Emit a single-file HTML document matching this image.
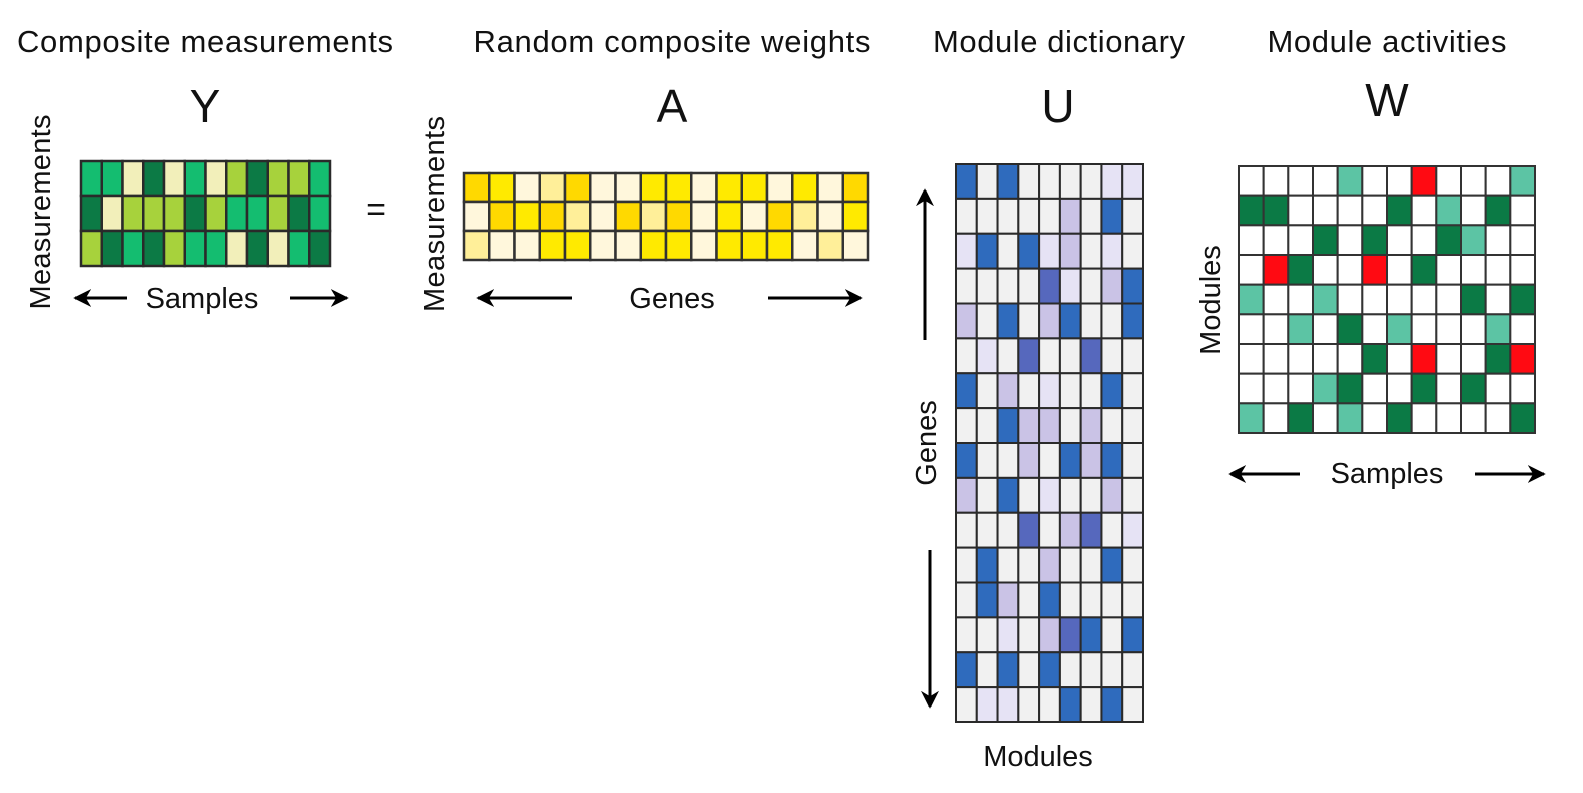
<!DOCTYPE html>
<html><head><meta charset="utf-8"><style>
html,body{margin:0;padding:0;background:#fff;}
svg{display:block;}
text{font-family:"Liberation Sans",Arial,sans-serif;fill:#111;}
</style></head><body>
<svg id="s" width="1583" height="793" viewBox="0 0 1583 793" xmlns="http://www.w3.org/2000/svg">
<defs>
<marker id="ah" viewBox="0 0 10 10" refX="9" refY="5" markerWidth="6" markerHeight="6" orient="auto-start-reverse" markerUnits="strokeWidth">
<path d="M0,0 L10,5 L0,10 L3,5 z" fill="#000"/></marker>
</defs>
<g font-size="31">
<text x="205" y="52" text-anchor="middle" textLength="376">Composite measurements</text>
<text x="672" y="52" text-anchor="middle" textLength="397">Random composite weights</text>
<text x="1059" y="52" text-anchor="middle" textLength="252">Module dictionary</text>
<text x="1387" y="52" text-anchor="middle" textLength="239">Module activities</text>
</g>
<g font-size="46" text-anchor="middle">
<text x="205" y="122">Y</text>
<text x="672" y="122">A</text>
<text x="1058" y="122">U</text>
<text x="1387" y="116">W</text>
</g>
<g font-size="29">
<text transform="translate(50,212) rotate(-90)" text-anchor="middle" textLength="195">Measurements</text>
<text transform="translate(444,214) rotate(-90)" text-anchor="middle" textLength="196">Measurements</text>
<text transform="translate(936,443) rotate(-90)" text-anchor="middle">Genes</text>
<text transform="translate(1220,300) rotate(-90)" text-anchor="middle">Modules</text>
<text x="202" y="308" text-anchor="middle">Samples</text>
<text x="672" y="308" text-anchor="middle">Genes</text>
<text x="1038" y="766" text-anchor="middle">Modules</text>
<text x="1387" y="483" text-anchor="middle">Samples</text>
<text x="376" y="221" text-anchor="middle" font-size="34">=</text>
</g>
<g stroke="#000" stroke-width="3" fill="none" marker-end="url(#ah)">
<line x1="127" y1="298" x2="75" y2="298"/>
<line x1="290" y1="298" x2="347" y2="298"/>
<line x1="572" y1="298" x2="478" y2="298"/>
<line x1="768" y1="298" x2="861" y2="298"/>
<line x1="925" y1="340" x2="925" y2="190"/>
<line x1="930" y1="550" x2="930" y2="707"/>
<line x1="1300" y1="474" x2="1230" y2="474"/>
<line x1="1475" y1="474" x2="1544" y2="474"/>
</g>
<g id="grids"></g>
</svg>
<script>
function grid(x,y,w,h,rows,map,stroke,sw){
  var g=document.getElementById('grids'),ns="http://www.w3.org/2000/svg";
  var nr=rows.length,nc=rows[0].length,cw=w/nc,ch=h/nr;
  for(var r=0;r<nr;r++)for(var c=0;c<nc;c++){
    var e=document.createElementNS(ns,'rect');
    e.setAttribute('x',x+c*cw);e.setAttribute('y',y+r*ch);
    e.setAttribute('width',cw);e.setAttribute('height',ch);
    e.setAttribute('fill',map[rows[r][c]]);e.setAttribute('stroke',stroke);e.setAttribute('stroke-width',sw);
    g.appendChild(e);
  }
}
grid(81,161,249,105,["GGCDCGCLDLLG","DCLLLDLGGLDG","LDGDLGGCDCGD"],
 {G:"#14bd70",D:"#0c7a45",L:"#a7d23c",C:"#f2efba"},"#2a2a2a",2.5);
grid(464,173,404,87,["OYWPOWWYYWYYWYWO","WOYOPWOPOWYWOPWY","PWWYYWWYYWYYYWPW"],
 {Y:"#ffea00",O:"#ffd900",P:"#ffef99",W:"#fff7dc"},"#333",2.5);
grid(956,164,187,558,["B0B0000ll","00000L0B0","lB0BlL0l0","0000Vl0LB","L0B0LB00B","0l0V00V00","B0L0l00B0","00BLL0L00",
 "B00L0BLB0","L0B0l00L0","000V0LV0l","0B00L00B0","0BL0B0000","00l0LVB0B","B0B0B0000","0ll00B0B0"],
 {B:"#2f6bbd",V:"#5668bd",L:"#cac3e6",l:"#e6e3f5","0":"#f1f1f1"},"#2a2a2a",2);
grid(1239,166,296,267,["0000T00R000T","DD0000D0T0D0","000D0D00DT00","0RD00R0D0000","T00T00000D0D","00T0D0T000T0","00000D0R00DR","000TD00D0D00","T0D0T0D0000D"],
 {D:"#0b7a45",T:"#5cc4a4",R:"#ff0a12","0":"#ffffff"},"#333",2);
</script>
</body></html>
